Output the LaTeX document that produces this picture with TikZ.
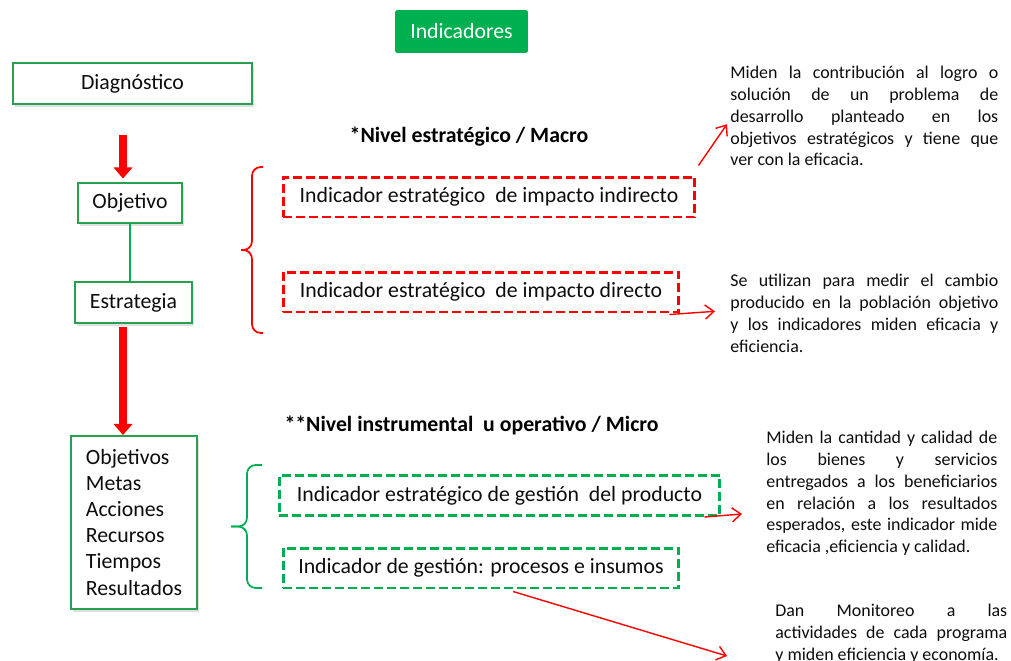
\documentclass[tikz,border=0pt]{standalone}
\usepackage{fontspec}
\setmainfont{Carlito}
\usepackage{xcolor}
\usetikzlibrary{arrows.meta,shadows,positioning}
\tikzset{font={\fontsize{12.4pt}{14.8}\selectfont}}
\definecolor{ppgreen}{RGB}{0,176,80}
\definecolor{boxgreen}{RGB}{40,160,80}
\definecolor{ppred}{RGB}{255,0,0}
\definecolor{ink}{RGB}{13,13,13}

\begin{document}
\begin{tikzpicture}[x=0.02cm,y=-0.02cm,
green box/.style={draw=boxgreen,line width=1.1pt,fill=white,text=ink,
  drop shadow={shadow xshift=1.2pt,shadow yshift=-1.5pt,opacity=.25}},
red indicator/.style={draw=ppred,line width=1.7pt,dash pattern=on 5.1pt off 2.3pt,
  text=ink,minimum width=#1,minimum height=0.8cm},
green indicator/.style={red indicator=#1,draw=ppgreen},
big arrow/.style={draw=ppred,line width=4.5pt,-{Triangle[length=6.3pt,width=10.4pt]}},
thin arrow/.style={draw=ppred,line width=0.8pt,-{Straight Barb[length=5pt,width=8pt]}},
note/.style={anchor=north west,inner sep=0pt,align=justify,text=ink,
  font={\fontsize{10.2pt}{12.4}\selectfont}}
]
\useasboundingbox (0,0) rectangle (1011,660);

\node[fill=ppgreen,text=white,minimum width=2.66cm,minimum height=0.86cm,rounded corners=1pt] (titulo) at (461.5,31.5) {Indicadores};

% left column
\node[green box,minimum width=4.78cm,minimum height=0.82cm] (diag) at (132.5,83.5) {Diagnóstico};
\node[green box,minimum width=2.08cm,minimum height=0.8cm] (obj) at (130,203) {Objetivo};
\node[green box,minimum width=2.34cm,minimum height=0.82cm] (estr) at (133.5,302.5) {Estrategia};
\node[green box,align=left,minimum width=2.52cm,minimum height=3.46cm] (plan) at (134,522.5) {Objetivos\\Metas\\Acciones\\Recursos\\Tiempos\\Resultados};

\draw[big arrow,shorten <=0.6cm,shorten >=2pt] ([xshift=-0.14cm]obj.north |- diag.south) -- ([xshift=-0.14cm]obj.north);
\draw[ppgreen,line width=1.1pt] (obj.south) -- (obj.south |- estr.north);
\draw[big arrow,shorten <=2pt] ([xshift=-0.22cm]plan.north |- estr.south) -- ([xshift=-0.22cm]plan.north);

% levels
\node[font={\fontsize{12.4pt}{14.8}\selectfont\bfseries}] (macro) at (469,137) {*Nivel estratégico / Macro};
\node[font={\fontsize{12.4pt}{14.8}\selectfont\bfseries}] (micro) at (471.5,425) {**Nivel instrumental\ \ u operativo / Micro};

\node[red indicator=8.24cm] (ind1) at (489,197) {Indicador estratégico\ \ de impacto indirecto};
\node[red indicator=7.92cm] (ind2) at (481,292) {Indicador estratégico\ \ de impacto directo};
\node[green indicator=8.82cm] (ind3) at (499.5,495.5) {Indicador estratégico de gestión\ \ del producto};
\node[green indicator=7.92cm] (ind4) at (481,568) {Indicador de gestión: procesos e insumos};

\foreach \s in {-1,1}
  \draw[ppred,line width=1pt,rounded corners=5pt] ({263},{250+83*\s}) -- ({252},{250+83*\s}) -- (252,250) -- (241,250);
\foreach \s in {-1,1}
  \draw[ppgreen,line width=1pt,rounded corners=5pt] ({262},{526.5+61.5*\s}) -- ({247},{526.5+61.5*\s}) -- (247,526.5) -- (231,526.5);

% notes
\node[note,text width=5.36cm] (t1) at (730,66) {Miden la contribución al logro o\linebreak solución de un problema de\linebreak desarrollo planteado en los\linebreak objetivos estratégicos y tiene que\linebreak ver con la eficacia.};
\node[note,text width=5.36cm] (t2) at (730,274) {Se utilizan para medir el cambio\linebreak producido en la población objetivo\linebreak y los indicadores miden eficacia y\linebreak eficiencia.};
\node[note,text width=4.62cm] (t3) at (766,431) {Miden la cantidad y calidad de\linebreak los bienes y servicios\linebreak entregados a los beneficiarios\linebreak en relación a los resultados\linebreak esperados, este indicador mide\linebreak eficacia ,eficiencia y calidad.};
\node[note,text width=4.64cm] (t4) at (775,604) {Dan Monitoreo a las\linebreak actividades de cada programa\linebreak y miden eficiencia y economía.};

\coordinate (e3) at (742,514);
\coordinate (e4) at (727,656);
\draw[thin arrow] ([shift={(2,-10)}]ind1.north east) -- ([shift={(-3,8)}]t1.west);
\draw[thin arrow] ([shift={(-11,1)}]ind2.south east) -- ([shift={(-15,-2)}]t2.west);
\draw[thin arrow] ([shift={(-17,0)}]ind3.south east) -- (e3);
\draw[thin arrow] ([shift={(32,2)}]ind4.south) -- (e4);
\end{tikzpicture}
\end{document}
